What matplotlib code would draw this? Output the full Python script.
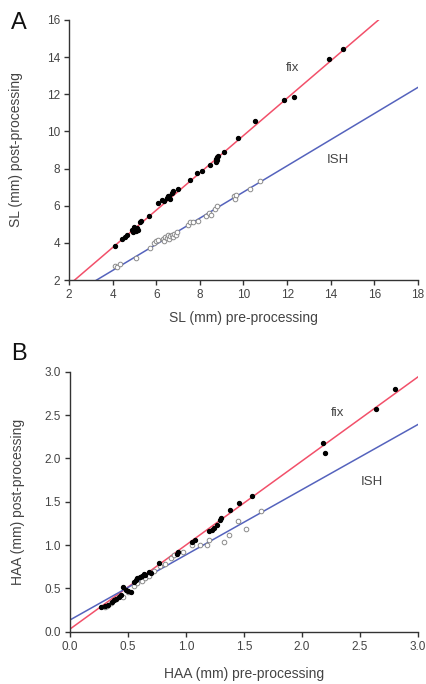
import numpy as np
import matplotlib.pyplot as plt

plt.rcParams['font.family'] = ['Liberation Sans', 'DejaVu Sans']

# Panel A: standard length (mm)
sl_fix_pre = [4.1, 4.45, 4.55, 4.65, 4.9, 4.95, 5.0, 5.05, 5.1, 5.15, 5.0, 5.3, 5.25, 5.65,
              6.1, 6.25, 6.35, 6.5, 6.55, 6.6, 6.7, 6.75, 6.65, 7.0, 7.55, 7.85, 8.1, 8.45,
              8.75, 8.8, 8.8, 8.85, 8.75, 9.1, 9.75, 10.55, 11.85, 12.3, 13.9, 14.55]
sl_fix_post = [3.85, 4.2, 4.3, 4.4, 4.7, 4.6, 4.75, 4.65, 4.8, 4.7, 4.85, 5.2, 5.1, 5.45,
               6.15, 6.3, 6.25, 6.4, 6.55, 6.5, 6.7, 6.8, 6.35, 6.9, 7.4, 7.75, 7.85, 8.2,
               8.35, 8.45, 8.6, 8.7, 8.5, 8.9, 9.65, 10.55, 11.7, 11.85, 13.9, 14.45]
sl_ish_pre = [4.1, 4.2, 4.35, 5.05, 5.7, 5.9, 6.0, 6.1, 6.3, 6.35, 6.4, 6.5, 6.55, 6.6, 6.65,
              6.7, 6.75, 6.8, 6.9, 6.95, 7.45, 7.55, 7.7, 7.9, 8.3, 8.4, 8.5, 8.7, 8.8,
              9.55, 9.6, 9.65, 10.3, 10.75]
sl_ish_post = [2.75, 2.72, 2.85, 3.2, 3.7, 4.0, 4.1, 4.15, 4.2, 4.1, 4.3, 4.25, 4.4, 4.2, 4.35,
               4.45, 4.3, 4.5, 4.45, 4.6, 4.95, 5.1, 5.15, 5.2, 5.45, 5.6, 5.5, 5.85, 6.0,
               6.5, 6.35, 6.6, 6.9, 7.35]
sl_fix_fit = [1.005, -0.27]   # slope, intercept
sl_ish_fit = [0.704, -0.30]

# Panel B: head-anal aperture (mm)
haa_fix_pre = [0.27, 0.3, 0.33, 0.36, 0.38, 0.4, 0.42, 0.44, 0.46, 0.48, 0.5, 0.53, 0.55,
               0.57, 0.58, 0.6, 0.62, 0.64, 0.65, 0.68, 0.7, 0.77, 0.92, 0.93, 1.05, 1.08,
               1.2, 1.22, 1.24, 1.27, 1.29, 1.3, 1.38, 1.46, 1.57, 2.18, 2.2, 2.64, 2.8]
haa_fix_post = [0.29, 0.3, 0.31, 0.34, 0.36, 0.38, 0.4, 0.42, 0.51, 0.48, 0.47, 0.46, 0.57,
                0.6, 0.62, 0.63, 0.64, 0.67, 0.65, 0.69, 0.68, 0.79, 0.9, 0.92, 1.04, 1.06,
                1.16, 1.17, 1.2, 1.23, 1.29, 1.31, 1.4, 1.48, 1.57, 2.18, 2.06, 2.57, 2.8]
haa_ish_pre = [0.3, 0.32, 0.35, 0.4, 0.43, 0.46, 0.5, 0.55, 0.58, 0.62, 0.65, 0.68, 0.72,
               0.78, 0.82, 0.87, 0.9, 0.97, 1.05, 1.12, 1.18, 1.2, 1.33, 1.37, 1.45, 1.52, 1.65]
haa_ish_post = [0.28, 0.3, 0.33, 0.38, 0.41, 0.4, 0.46, 0.53, 0.56, 0.58, 0.62, 0.64, 0.7,
                0.76, 0.78, 0.85, 0.88, 0.92, 1.0, 1.0, 1.0, 1.06, 1.03, 1.12, 1.28, 1.18, 1.39]
haa_fix_fit = [0.97, 0.03]
haa_ish_fit = [0.752, 0.135]

RED = '#f2506a'
BLUE = '#5563bd'
TXT = '#444444'

fig = plt.figure(figsize=(4.27, 6.84), dpi=100)
axA = fig.add_axes([0.1616, 0.5906, 0.8173, 0.3802])
axB = fig.add_axes([0.1639, 0.0765, 0.8150, 0.3801])


def style(ax):
    for s in ['top', 'right']:
        ax.spines[s].set_visible(False)
    for s in ['left', 'bottom']:
        ax.spines[s].set_color('#333333')
        ax.spines[s].set_linewidth(1.0)
    ax.tick_params(direction='out', length=3.5, width=1.0, color='#333333',
                   labelsize=8.5, labelcolor=TXT, pad=3)


def panel(ax, fix_x, fix_y, ish_x, ish_y, fix_fit, ish_fit, xlim, ylim):
    xs = np.array(xlim)
    ax.plot(xs, fix_fit[0] * xs + fix_fit[1], color=RED, lw=1.1, zorder=2)
    ax.plot(xs, ish_fit[0] * xs + ish_fit[1], color=BLUE, lw=1.1, zorder=2)
    ax.scatter(ish_x, ish_y, s=11, facecolors='white', edgecolors='#8a8a8a',
               linewidths=0.7, zorder=3)
    ax.scatter(fix_x, fix_y, s=8, color='black', zorder=4)
    ax.set_xlim(xlim)
    ax.set_ylim(ylim)
    style(ax)


panel(axA, sl_fix_pre, sl_fix_post, sl_ish_pre, sl_ish_post, sl_fix_fit, sl_ish_fit,
      (2, 18), (2, 16))
axA.set_xticks(np.arange(2, 19, 2))
axA.set_yticks(np.arange(2, 17, 2))
axA.set_xlabel('SL (mm) pre-processing', fontsize=10, color=TXT, labelpad=7)
axA.set_ylabel('SL (mm) post-processing', fontsize=10, color=TXT, labelpad=17)
axA.text(12.23, 13.4, 'fix', fontsize=9.5, color=TXT, ha='center', va='center')
axA.text(14.34, 8.46, 'ISH', fontsize=9.5, color=TXT, ha='center', va='center')

panel(axB, haa_fix_pre, haa_fix_post, haa_ish_pre, haa_ish_post, haa_fix_fit, haa_ish_fit,
      (0, 3), (0, 3))
axB.set_xticks(np.arange(0, 3.01, 0.5))
axB.set_yticks(np.arange(0, 3.01, 0.5))
axB.xaxis.set_major_formatter(plt.FormatStrFormatter('%.1f'))
axB.yaxis.set_major_formatter(plt.FormatStrFormatter('%.1f'))
axB.set_xlabel('HAA (mm) pre-processing', fontsize=10, color=TXT, labelpad=10)
axB.set_ylabel('HAA (mm) post-processing', fontsize=10, color=TXT, labelpad=14)
axB.text(2.31, 2.52, 'fix', fontsize=9.5, color=TXT, ha='center', va='center')
axB.text(2.6, 1.73, 'ISH', fontsize=9.5, color=TXT, ha='center', va='center')

fig.text(0.045, 0.967, 'A', fontsize=17, ha='center', va='center', color='#111111')
fig.text(0.045, 0.482, 'B', fontsize=17, ha='center', va='center', color='#111111')

fig.savefig('out.png', dpi=100)
